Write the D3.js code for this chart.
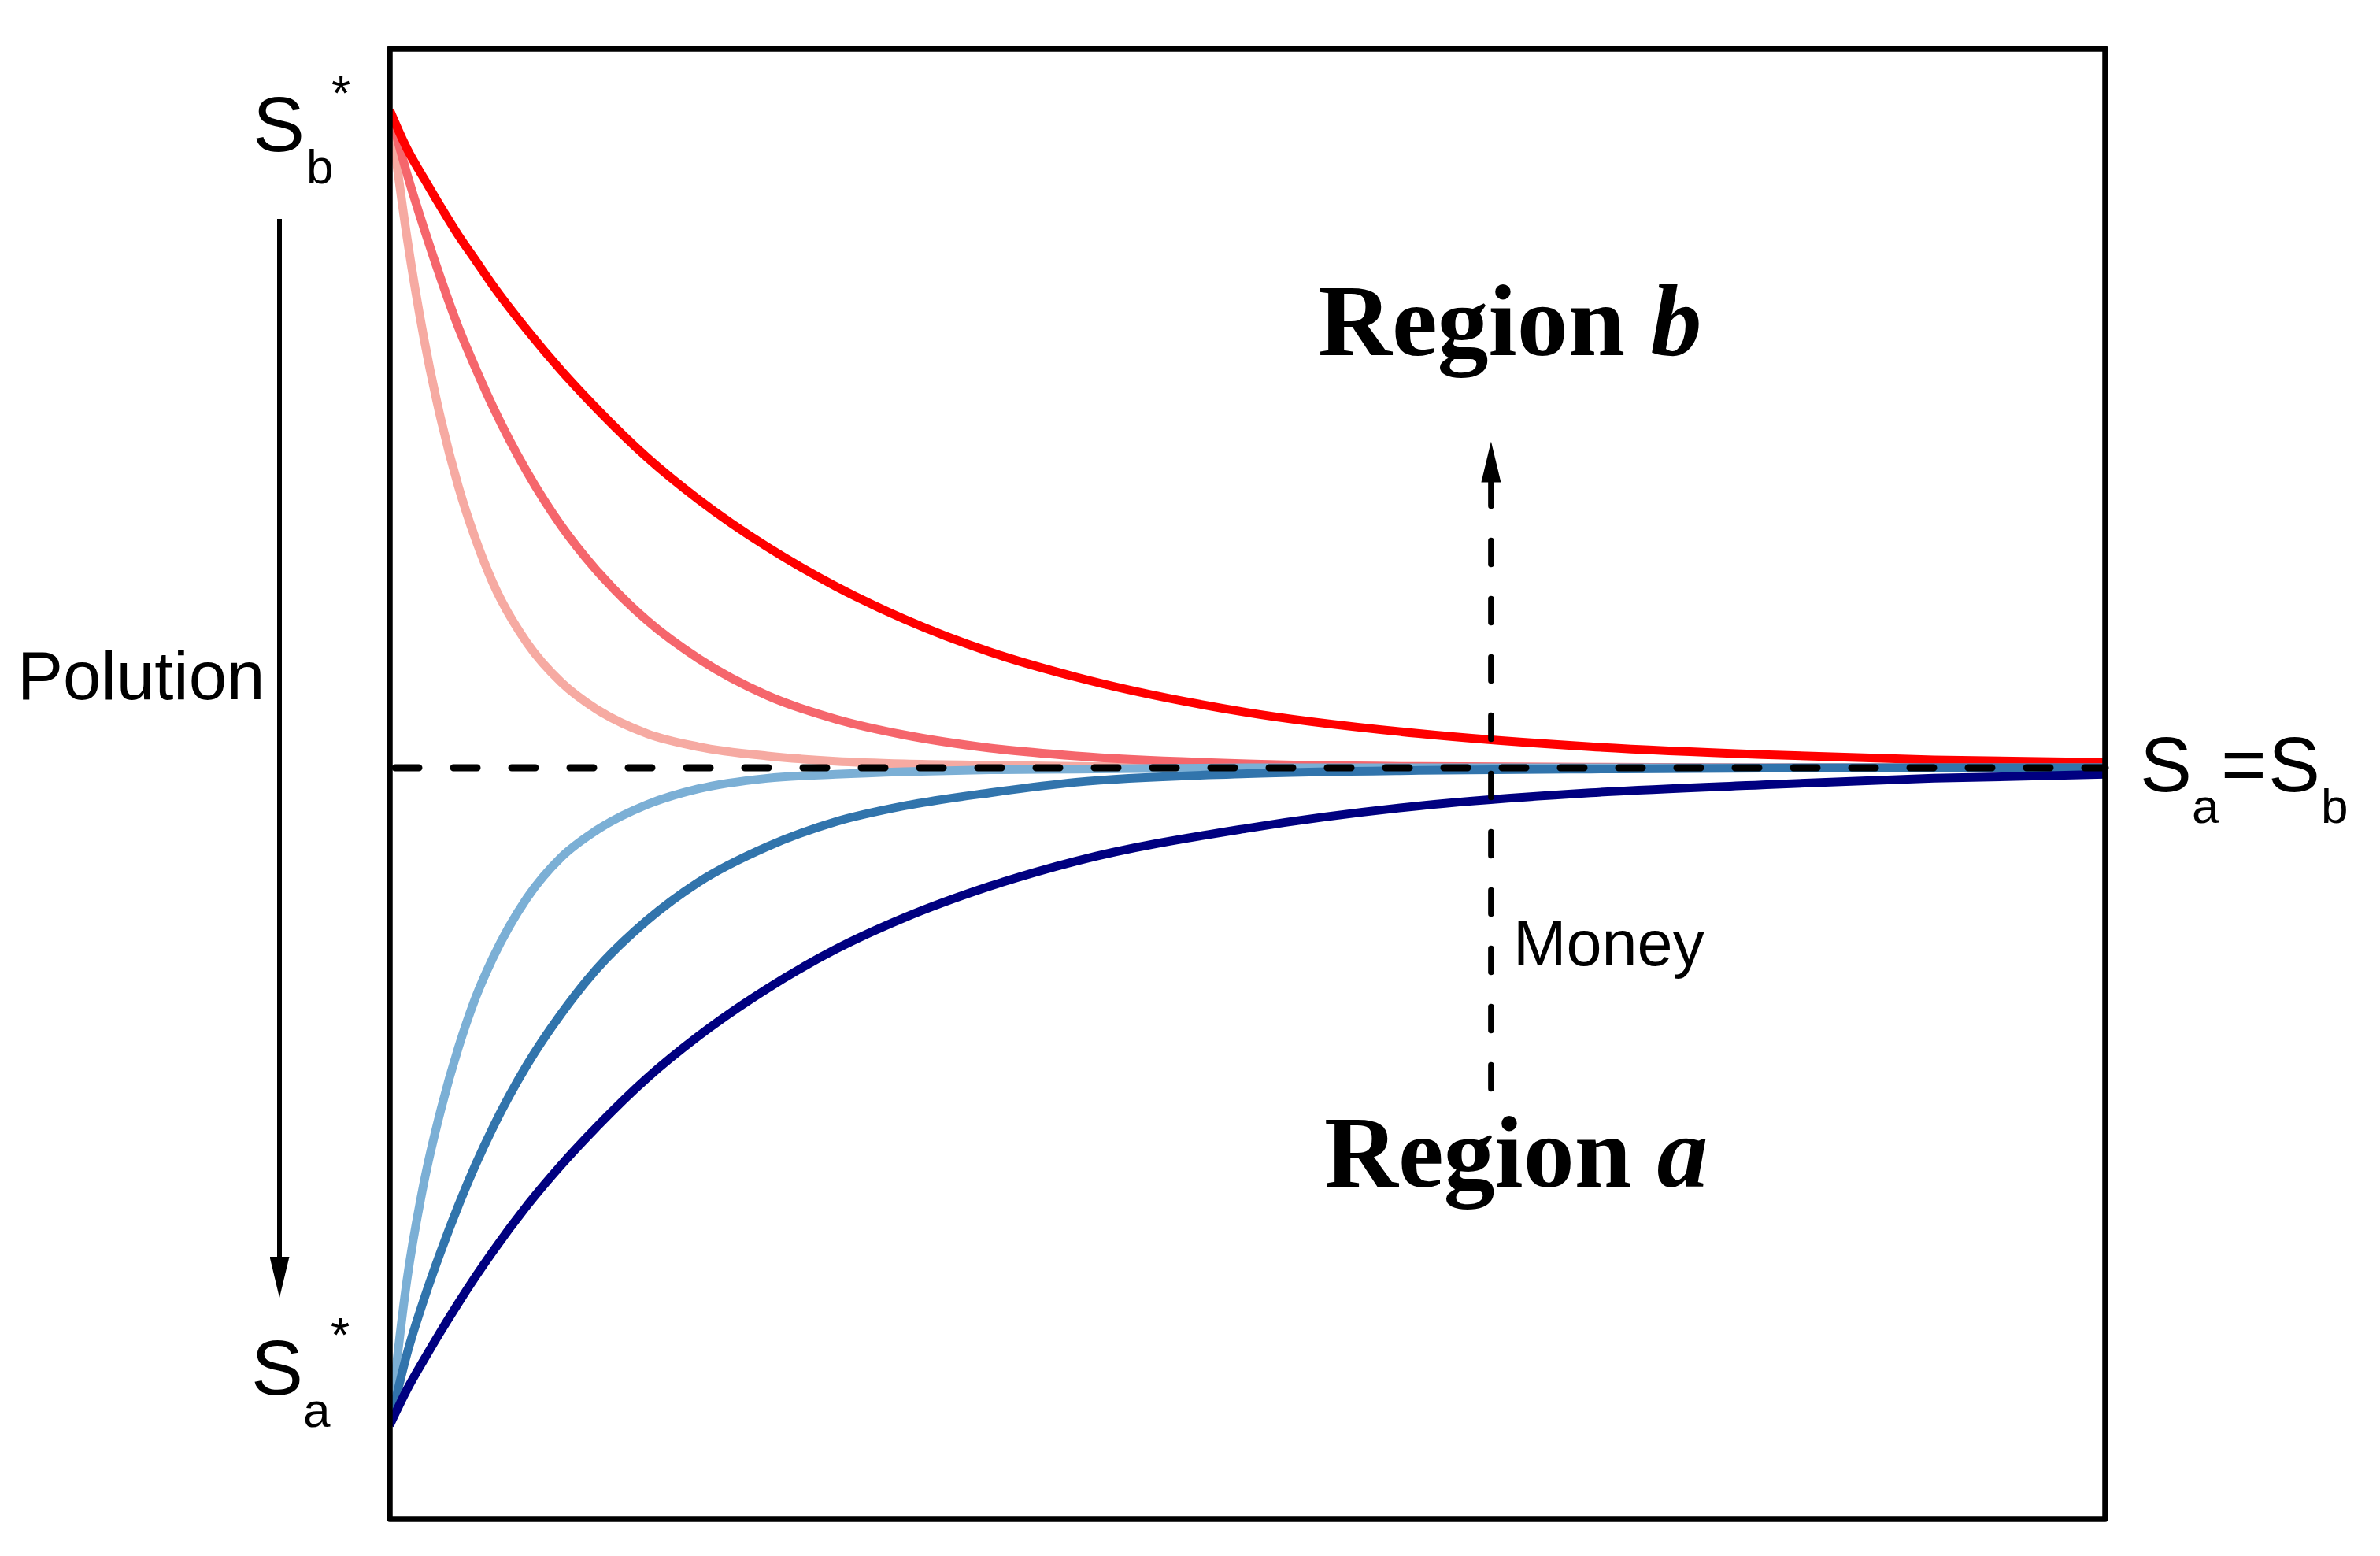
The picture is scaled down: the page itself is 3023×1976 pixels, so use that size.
<!DOCTYPE html>
<html>
<head>
<meta charset="utf-8">
<script src="https://cdn.jsdelivr.net/npm/d3@7/dist/d3.min.js"></script>
<style>
  html, body { margin: 0; padding: 0; background: #fff; }
  svg { display: block; }
</style>
</head>
<body>
<svg id="chart" width="3023" height="1976"></svg>
<script>
// money spent (x) for every sampled point
const money = [0, 1, 2, 3, 4, 5, 6, 8, 10, 12, 15, 18, 22, 26, 30, 35, 40, 50, 60, 70, 80, 90, 100];

// pollution of region b (starts at Sb*, falls to the common level)
const regionB1 = [100, 97.1, 94.8, 92.6, 90.5, 88.6, 86.7, 83.3, 80.2, 77.4, 73.6, 70.4, 66.8, 63.8, 61.3, 58.8, 56.9, 54.2, 52.6, 51.6, 51.0, 50.6, 50.4];
const regionB2 = [100, 95.2, 91.0, 87.1, 83.5, 80.4, 77.5, 72.5, 68.4, 65.1, 61.2, 58.3, 55.5, 53.7, 52.5, 51.5, 50.9, 50.3, 50.1, 50.05, 50.0, 50.0, 50.0];
const regionB3 = [100, 90.4, 82.6, 76.4, 71.4, 67.4, 64.1, 59.5, 56.5, 54.5, 52.6, 51.6, 50.9, 50.5, 50.3, 50.2, 50.1, 50.0, 50.0, 50.0, 50.0, 50.0, 50.0];

// pollution of region a (starts at Sa*, rises to the common level)
const regionA3 = [0, 11.0, 18.5, 24.1, 28.7, 32.5, 35.5, 40.1, 43.2, 45.2, 47.2, 48.4, 49.2, 49.5, 49.7, 49.85, 49.9, 50.0, 50.0, 50.0, 50.0, 50.0, 50.0];
const regionA2 = [0, 5.4, 9.6, 13.3, 16.7, 19.8, 22.6, 27.4, 31.3, 34.6, 38.4, 41.3, 44.0, 45.9, 47.1, 48.1, 48.9, 49.55, 49.8, 49.9, 49.97, 50.0, 50.0];
const regionA1 = [0, 2.7, 5.0, 7.2, 9.3, 11.3, 13.2, 16.7, 19.8, 22.6, 26.4, 29.6, 33.2, 36.2, 38.6, 41.0, 42.9, 45.4, 47.1, 48.1, 48.7, 49.2, 49.5];

const seriesNames = ['b3', 'b2', 'b1', 'a3', 'a2', 'a1'];
const seriesValues = [regionB3, regionB2, regionB1, regionA3, regionA2, regionA1];
const seriesColors = ['#f6aaa2', '#f5666c', '#ff0000', '#7bafd5', '#3174ac', '#000080'];

const equilibrium = 50;     // Sa = Sb
const moneyMark = 64.2;     // where the "Money" arrow stands
const moneyArrow = [25.6, 71.7];

const svg = d3.select('#chart');

const plotLeft = 495, plotRight = 2674, plotTop = 62, plotBottom = 1929;

const x = d3.scaleLinear().domain([0, 100]).range([plotLeft, plotRight]);
const y = d3.scaleLinear().domain([0, 100]).range([1810, 140]);

const defs = svg.append('defs');
defs.append('clipPath')
    .attr('id', 'plot-clip')
    .append('rect')
    .attr('x', plotLeft)
    .attr('y', plotTop)
    .attr('width', plotRight - plotLeft)
    .attr('height', plotBottom - plotTop);

// arrow heads
const addHead = (id, len, half) => {
    defs.append('marker')
        .attr('id', id)
        .attr('markerUnits', 'userSpaceOnUse')
        .attr('viewBox', `0 ${-half} ${len} ${half * 2}`)
        .attr('refX', 0)
        .attr('refY', 0)
        .attr('markerWidth', len)
        .attr('markerHeight', half * 2)
        .attr('orient', 'auto')
        .append('path')
        .attr('d', `M0,${-half}L${len},0L0,${half}Z`)
        .attr('fill', '#000')
        .attr('stroke', 'none');
};
addHead('head-down', 52, 12.5);
addHead('head-up', 52, 12.5);

// curves
const line = d3.line()
    .x((d, i) => x(money[i]))
    .y(d => y(d))
    .curve(d3.curveMonotoneX);

svg.append('g')
    .attr('class', 'curves')
    .attr('clip-path', 'url(#plot-clip)')
    .selectAll('path')
    .data(seriesValues)
    .enter()
    .append('path')
    .attr('class', (d, i) => 'curve ' + seriesNames[i])
    .attr('fill', 'none')
    .attr('stroke', (d, i) => seriesColors[i])
    .attr('stroke-width', 11)
    .attr('d', line);

// Sa = Sb level
svg.append('line')
    .attr('x1', x(0))
    .attr('x2', x(100))
    .attr('y1', y(equilibrium))
    .attr('y2', y(equilibrium))
    .attr('stroke', '#000')
    .attr('stroke-width', 9)
    .attr('stroke-linecap', 'round')
    .attr('stroke-dasharray', '30 44')
    .attr('stroke-dashoffset', -7);

// money arrow, drawn from the bottom up
svg.append('line')
    .attr('x1', x(moneyMark))
    .attr('x2', x(moneyMark))
    .attr('y1', y(moneyArrow[0]))
    .attr('y2', y(moneyArrow[1]))
    .attr('stroke', '#000')
    .attr('stroke-width', 7.5)
    .attr('stroke-linecap', 'round')
    .attr('stroke-dasharray', '30 44')
    .attr('marker-end', 'url(#head-up)');

// frame
svg.append('rect')
    .attr('x', plotLeft)
    .attr('y', plotTop)
    .attr('width', plotRight - plotLeft)
    .attr('height', plotBottom - plotTop)
    .attr('fill', 'none')
    .attr('stroke', '#000')
    .attr('stroke-width', 7.5)
    .attr('stroke-linejoin', 'round');

// pollution arrow on the left
svg.append('line')
    .attr('x1', 355)
    .attr('x2', 355)
    .attr('y1', 278)
    .attr('y2', 1596)
    .attr('stroke', '#000')
    .attr('stroke-width', 6)
    .attr('marker-end', 'url(#head-down)');

const sans = '"Liberation Sans", Arial, sans-serif';
const serif = '"Liberation Serif", "Times New Roman", serif';

svg.append('text')
    .attr('x', 22)
    .attr('y', 888)
    .attr('font-family', sans)
    .attr('font-size', 87)
    .text('Polution');

// label with a subscript and an optional star
const symbol = (parts) => {
    const t = svg.append('text').attr('font-family', sans);
    parts.forEach(p => {
        t.append('tspan')
            .attr('x', p.x)
            .attr('y', p.y)
            .attr('font-size', p.size)
            .text(p.s);
    });
};

symbol([
    { s: 'S', x: 321, y: 192, size: 99 },
    { s: 'b', x: 389, y: 233, size: 62 },
    { s: '*', x: 421, y: 139, size: 62 }
]);
symbol([
    { s: 'S', x: 319, y: 1771, size: 99 },
    { s: 'a', x: 385, y: 1812, size: 62 },
    { s: '*', x: 420, y: 1716, size: 62 }
]);
symbol([
    { s: 'S', x: 2718, y: 1005, size: 99 },
    { s: 'a', x: 2784, y: 1045, size: 62 },
    { s: '=', x: 2821, y: 1005, size: 99 },
    { s: 'S', x: 2881, y: 1005, size: 99 },
    { s: 'b', x: 2948, y: 1045, size: 62 }
]);

svg.append('text')
    .attr('x', 1922)
    .attr('y', 1226)
    .attr('font-family', sans)
    .attr('font-size', 81)
    .text('Money');

const region = (letter, yy, xx) => {
    const t = svg.append('text')
        .attr('x', xx)
        .attr('y', yy)
        .attr('font-family', serif)
        .attr('font-weight', 'bold')
        .attr('font-size', 130);
    t.append('tspan').text('Region ');
    t.append('tspan').attr('font-style', 'italic').text(letter);
};
region('b', 451, 1674);
region('a', 1507, 1682);
</script>
</body>
</html>
